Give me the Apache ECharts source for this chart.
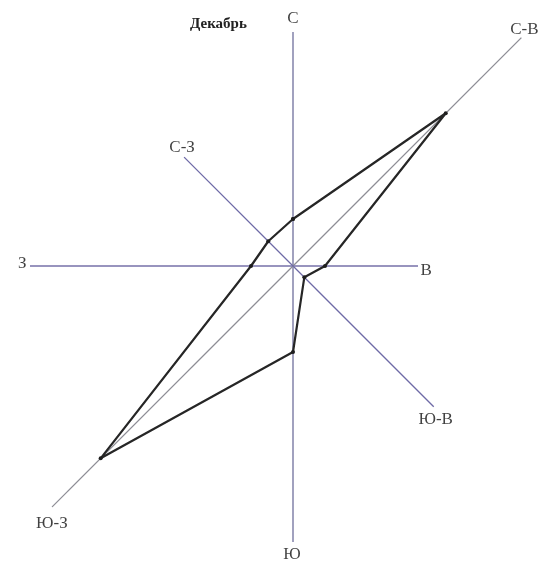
<!DOCTYPE html>
<html lang="ru">
<head>
    <meta charset="UTF-8">
    <title>Роза ветров</title>
    <script src="https://cdn.jsdelivr.net/npm/echarts@6/dist/echarts.min.js"></script>
    <style>
        html, body { margin: 0; padding: 0; background: #fff; }
        #main { width: 542px; height: 564px; }
    </style>
</head>
<body>
<div id="main"></div>
<script type="text/javascript">
    // румбы (по часовой стрелке от севера)
    var directions = ['С', 'С-В', 'В', 'Ю-В', 'Ю', 'Ю-З', 'З', 'С-З'];
    var angles = [0, 45, 90, 135, 180, 225, 270, 315];
    // длина лучей на рисунке
    var spokeLengths = [234, 323, 125, 199, 276, 341, 263, 154];
    // повторяемость ветра, декабрь
    var windValues = [47, 216, 32, 16, 86, 272, 42, 35];

    var spokeColors = ['#6f6f9c', '#8d8d95', '#7670a8', '#6e6aa6', '#6f6f9c', '#8d8d95', '#7670a8', '#6e6aa6'];
    var labelPlace = [
        {position: 'top', distance: 4, offset: [0, 0]},
        {position: 'top', distance: 0, offset: [3, 1]},
        {position: 'right', distance: 2, offset: [0, 5]},
        {position: 'bottom', distance: 4, offset: [2, 0]},
        {position: 'bottom', distance: 4, offset: [-1, 0]},
        {position: 'bottom', distance: 7, offset: [0, 0]},
        {position: 'left', distance: 3, offset: [0, -2]},
        {position: 'top', distance: 1, offset: [-2, 0]}
    ];

    var font = '"Liberation Serif", "DejaVu Serif", serif';
    var myChart = echarts.init(document.getElementById('main'));

    var series = [];
    for (var i = 0; i < directions.length; i++) {
        series.push({
            type: 'line',
            coordinateSystem: 'polar',
            silent: true,
            symbol: 'none',
            lineStyle: {color: spokeColors[i], width: 1.3},
            data: [[0, angles[i]], [spokeLengths[i], angles[i]]],
            z: 1
        });
    }

    // подписи румбов
    series.push({
        type: 'scatter',
        coordinateSystem: 'polar',
        symbol: 'circle',
        symbolSize: 1,
        itemStyle: {color: 'rgba(0,0,0,0)'},
        data: directions.map(function (d, i) {
            return {
                name: d,
                value: [spokeLengths[i], angles[i]],
                label: {
                    show: true,
                    formatter: d,
                    position: labelPlace[i].position,
                    distance: labelPlace[i].distance,
                    offset: labelPlace[i].offset,
                    color: '#111',
                    fontFamily: font,
                    fontSize: 17
                }
            };
        }),
        z: 2
    });

    // многоугольник
    var poly = windValues.map(function (v, i) { return [v, angles[i]]; });
    poly.push([windValues[0], angles[0]]);
    series.push({
        type: 'line',
        coordinateSystem: 'polar',
        symbol: 'circle',
        symbolSize: 4,
        itemStyle: {color: '#1e1e1e'},
        lineStyle: {color: '#262626', width: 2.2},
        data: poly,
        z: 3
    });

    var option = {
        backgroundColor: '#ffffff',
        animation: false,
        title: {
            text: 'Декабрь',
            left: 185,
            top: 12,
            textStyle: {fontFamily: font, fontSize: 15, fontWeight: 'bold', color: '#222'}
        },
        polar: {center: [293, 266], radius: 341},
        angleAxis: {
            type: 'value', min: 0, max: 360, startAngle: 90, clockwise: true,
            show: false, splitLine: {show: false}
        },
        radiusAxis: {
            type: 'value', min: 0, max: 341,
            show: false, splitLine: {show: false}
        },
        series: series
    };
    myChart.setOption(option);
</script>
</body>
</html>
